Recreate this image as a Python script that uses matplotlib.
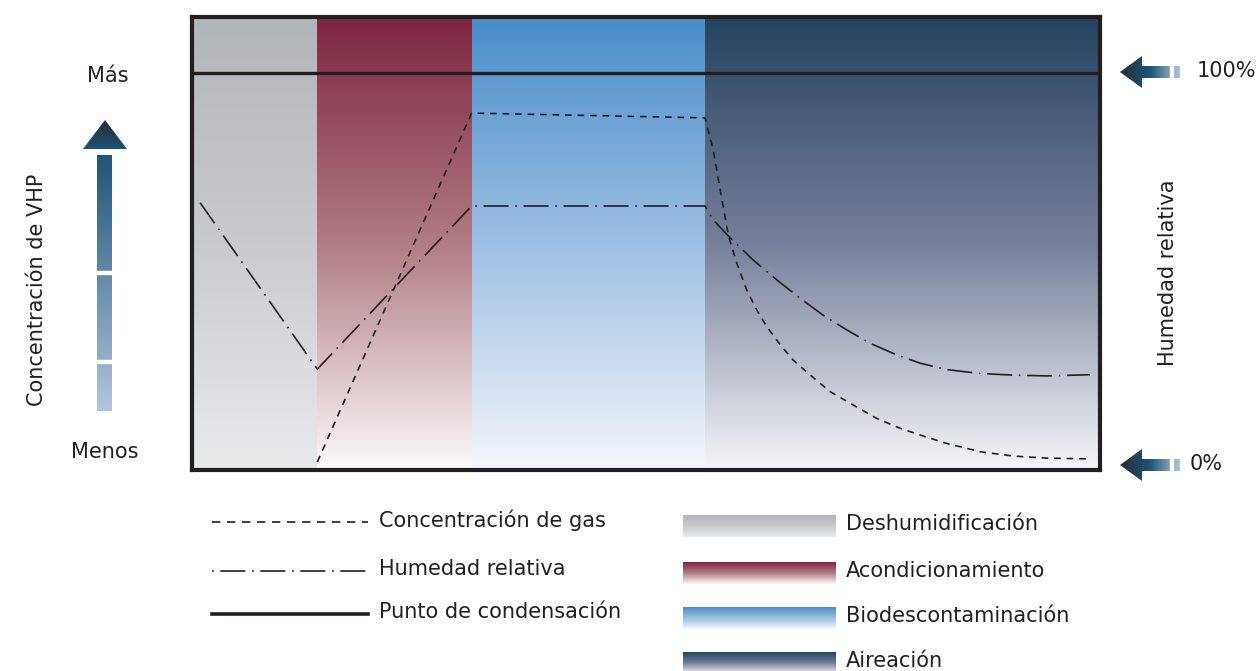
import numpy as np
import matplotlib.pyplot as plt
from matplotlib.colors import LinearSegmentedColormap

plt.rcParams['font.family'] = ['DejaVu Sans']

# phases (x in % of cycle time)
phases = ['Deshumidificación', 'Acondicionamiento', 'Biodescontaminación', 'Aireación']
phase_edges = [0, 13.8, 30.8, 56.5, 100]
phase_cols = [['#b2b5ba', '#c9cbce', '#e9eaec'],
              ['#7e2541', '#b07c84', '#fdfafa'],
              ['#4a8dc9', '#9dbfe3', '#f4f7fc'],
              ['#24435f', '#76809c', '#f6f6f9']]

# gas concentration (dashed)
gas_x = [13.8, 30.8, 56.5, 57.4, 58.1, 59.1, 60.0, 61.1, 62.2, 63.3, 64.8, 66.2,
         68.1, 70.3, 72.8, 75.4, 78.0, 80.2, 83.1, 86.8, 90.5, 94.1, 98.7]
gas_y = [2.0, 89.9, 88.7, 80.6, 71.5, 58.8, 52.1, 45.3, 40.3, 36.1, 31.5, 27.7,
         23.9, 19.7, 16.4, 13.0, 10.5, 8.8, 6.7, 4.6, 3.5, 3.0, 2.8]

# relative humidity (dash-dot)
hum_x = [0.9, 13.8, 30.8, 56.5, 57.4, 59.3, 61.8, 64.4, 67.0, 69.5, 72.1, 74.7,
         77.6, 80.2, 83.1, 86.8, 90.5, 94.1, 98.9]
hum_y = [67.3, 25.4, 66.5, 66.5, 63.0, 58.4, 52.9, 47.9, 43.2, 39.0, 35.3, 31.9,
         29.0, 26.9, 25.3, 24.3, 23.9, 23.7, 24.0]

# condensation point
cond_y = 100

W, H = 1260, 671
fig = plt.figure(figsize=(W / 100, H / 100), dpi=100)

# overlay in pixel coords for decorations
ov = fig.add_axes([0, 0, 1, 1])
ov.set_xlim(0, W)
ov.set_ylim(H, 0)
ov.axis('off')

ax = fig.add_axes([192 / W, 1 - 470 / H, 908 / W, 453 / H])

grad = np.linspace(0, 1, 256).reshape(-1, 1)


def vgrad(axis, cols, extent, z=0):
    cm = LinearSegmentedColormap.from_list('g', cols)
    axis.imshow(grad, cmap=cm, extent=extent, aspect='auto', zorder=z,
                origin='upper', interpolation='bicubic')


for i in range(4):
    vgrad(ax, phase_cols[i], [phase_edges[i], phase_edges[i + 1], 0, 114.1])

ax.axhline(cond_y, color='#231f20', lw=2.4, zorder=3)
ax.plot(gas_x, gas_y, color='#231f20', lw=1.2, dashes=(4, 3.5), zorder=3)
ax.plot(hum_x, hum_y, color='#231f20', lw=1.2, dashes=(15, 4, 1, 4), zorder=3)
ax.set_xlim(0, 100)
ax.set_ylim(0, 114.1)
ax.set_xticks([])
ax.set_yticks([])
for s in ax.spines.values():
    s.set_linewidth(3)
    s.set_color('#231f20')

txt = dict(color='#231f20', fontsize=15)

# left scale
ov.text(108, 76, 'Más', ha='center', va='center', **txt)
ov.text(105, 452, 'Menos', ha='center', va='center', **txt)
ov.text(37, 290, 'Concentración de VHP', rotation=90, ha='center', va='center', **txt)
bar_cm = LinearSegmentedColormap.from_list('b', ['#1f5577', '#b3c5dc'])
ov.imshow(grad, cmap=bar_cm, extent=[97, 112, 411, 155], aspect='auto',
          interpolation='bicubic', zorder=1)
for gy in [272, 361]:
    ov.fill_between([95, 114], gy - 1.5, gy + 1.5, color='white', zorder=2)
tri = plt.Polygon([[83, 149], [127, 149], [105, 120]], closed=True,
                  facecolor='none', edgecolor='none')
ov.add_patch(tri)
tri_cm = LinearSegmentedColormap.from_list('t', ['#2b2b33', '#1c5475'])
im = ov.imshow(grad, cmap=tri_cm, extent=[83, 127, 149, 120], aspect='auto',
               interpolation='bicubic', zorder=1)
im.set_clip_path(tri)

# right scale
arr_cm = LinearSegmentedColormap.from_list('a', ['#2b2b33', '#1c5475', '#b3c5dc'])
hgrad = np.linspace(0, 1, 256).reshape(1, -1)
for cy, lab, lx in [(72, '100%', 1197), (465, '0%', 1190)]:
    shape = plt.Polygon([[1120, cy], [1142, cy - 16], [1142, cy - 6], [1180, cy - 6],
                         [1180, cy + 6], [1142, cy + 6], [1142, cy + 16]],
                        closed=True, facecolor='none', edgecolor='none')
    ov.add_patch(shape)
    im = ov.imshow(hgrad, cmap=arr_cm, extent=[1120, 1180, cy + 16, cy - 16],
                   aspect='auto', interpolation='bicubic', zorder=1)
    im.set_clip_path(shape)
    ov.fill_between([1170, 1172.5], cy - 8, cy + 8, color='white', zorder=2)
    ov.text(lx, cy - 1, lab, ha='left', va='center', **txt)
ov.text(1168, 273, 'Humedad relativa', rotation=90, ha='center', va='center', **txt)

# legend: lines
leg_lines = ['Concentración de gas', 'Humedad relativa', 'Punto de condensación']
leg_y = [522, 571, 614]
ov.plot([212, 368], [leg_y[0]] * 2, color='#231f20', lw=1.2, dashes=(5, 4))
ov.plot([212, 368], [leg_y[1]] * 2, color='#231f20', lw=1.2, dashes=(1, 4, 15, 4))
ov.plot([212, 368], [leg_y[2]] * 2, color='#231f20', lw=2.6)
for lab, ly in zip(leg_lines, leg_y):
    ov.text(379, ly - 2, lab, ha='left', va='center', **txt)

# legend: phases
sw_y = [526, 573, 618, 663]
for i, (lab, sy) in enumerate(zip(phases, sw_y)):
    vgrad(ov, phase_cols[i], [683, 836, sy + 11, sy - 11], z=1)
    ov.text(846, sy - 2, lab, ha='left', va='center', **txt)

ov.set_xlim(0, W)
ov.set_ylim(H, 0)
fig.savefig('out.png', dpi=100)
